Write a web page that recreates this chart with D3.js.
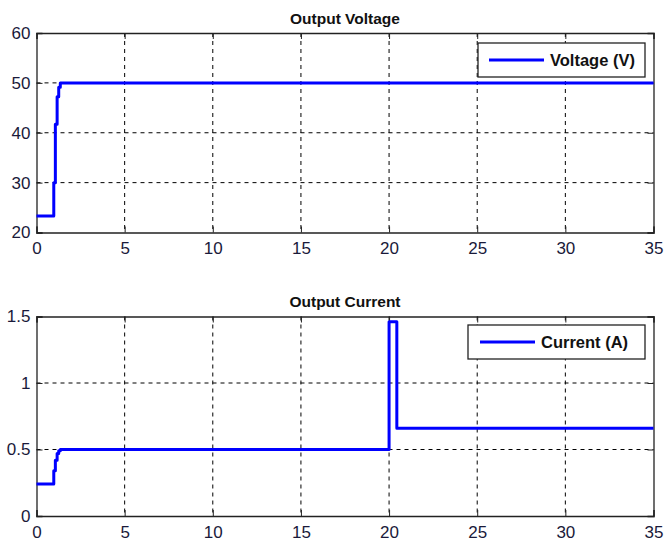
<!DOCTYPE html>
<html>
<head>
<meta charset="utf-8">
<script src="https://cdn.jsdelivr.net/npm/d3@7"></script>
<style>
  body { margin: 0; background: #fff; }
  svg { display: block; }
  text { font-family: "Liberation Sans", Arial, sans-serif; }
</style>
</head>
<body>
<div id="chart"></div>
<script>
// time (s) and values, step-wise
const voltTime = [0, 0.98, 0.98, 1.07, 1.07, 1.17, 1.17, 1.26, 1.26, 1.35, 1.35, 35];
const voltValues = [23.3, 23.3, 30, 30, 41.7, 41.7, 47.2, 47.2, 49.1, 49.1, 50, 50];

const currTime = [0, 0.98, 0.98, 1.07, 1.07, 1.17, 1.17, 1.26, 1.26, 1.35, 1.35, 20.0, 20.0, 20.44, 20.44, 35];
const currValues = [0.24, 0.24, 0.34, 0.34, 0.42, 0.42, 0.47, 0.47, 0.49, 0.49, 0.5, 0.5, 1.46, 1.46, 0.66, 0.66];

const xTicks = [0, 5, 10, 15, 20, 25, 30, 35];
const voltTicks = [20, 30, 40, 50, 60];
const currTicks = [0, 0.5, 1, 1.5];

const width = 665, height = 541;
const svg = d3.select("#chart").append("svg")
    .attr("width", width)
    .attr("height", height);

function drawPanel(opts) {
    let g = svg.append("g");

    let x = d3.scaleLinear().domain([0, 35]).range([36.5, 653.5]);
    let y = d3.scaleLinear().domain(opts.yDomain).range([opts.bottom, opts.top]);

    // grid
    g.selectAll(".vgrid").data(xTicks.slice(1, -1)).enter()
        .append("line")
        .attr("x1", d => x(d)).attr("x2", d => x(d))
        .attr("y1", opts.top).attr("y2", opts.bottom)
        .attr("stroke", "#000").attr("stroke-width", 1)
        .attr("stroke-dasharray", "4,4");
    g.selectAll(".hgrid").data(opts.yTicks.slice(1, -1)).enter()
        .append("line")
        .attr("x1", x(0)).attr("x2", x(35))
        .attr("y1", d => y(d)).attr("y2", d => y(d))
        .attr("stroke", "#000").attr("stroke-width", 1)
        .attr("stroke-dasharray", "4,4");

    // axes
    let xAxis = g.append("g")
        .attr("transform", `translate(0, ${opts.bottom})`)
        .call(d3.axisBottom(x).tickValues(xTicks).tickSize(-6).tickPadding(9.5).tickFormat(d3.format("d")));
    let xAxisTop = g.append("g")
        .attr("transform", `translate(0, ${opts.top})`)
        .call(d3.axisTop(x).tickValues(xTicks).tickSize(-6).tickFormat(""));
    let yAxis = g.append("g")
        .attr("transform", `translate(${x(0)}, 0)`)
        .call(d3.axisLeft(y).tickValues(opts.yTicks).tickSize(-6).tickPadding(6).tickFormat(d => String(d)));
    let yAxisR = g.append("g")
        .attr("transform", `translate(${x(35)}, 0)`)
        .call(d3.axisRight(y).tickValues(opts.yTicks).tickSize(-6).tickFormat(""));

    [xAxis, xAxisTop, yAxis, yAxisR].forEach(a => {
        a.select(".domain").attr("stroke", "#222").attr("stroke-width", 1.3);
        a.selectAll(".tick line").attr("stroke", "#222");
        a.selectAll("text")
            .attr("fill", "#1a1a3a")
            .style("font-size", "17px")
            .style("font-family", "Liberation Sans, Arial, sans-serif");
    });

    // line
    let line = d3.line()
        .x(d => x(d[0]))
        .y(d => y(d[1]));
    g.append("path")
        .datum(opts.time.map((t, i) => [t, opts.values[i]]))
        .attr("fill", "none")
        .attr("stroke", "#0000ff")
        .attr("stroke-width", 3)
        .attr("stroke-linejoin", "round")
        .attr("d", line);

    // title
    g.append("text")
        .attr("x", (x(0) + x(35)) / 2)
        .attr("y", opts.top - 9.5)
        .attr("text-anchor", "middle")
        .style("font-size", "15.5px")
        .style("font-weight", "bold")
        .attr("fill", "#111")
        .text(opts.title);

    // legend
    let lg = g.append("g");
    lg.append("rect")
        .attr("x", opts.legend.x).attr("y", opts.legend.y)
        .attr("width", opts.legend.w).attr("height", 34)
        .attr("fill", "#fff").attr("stroke", "#222").attr("stroke-width", 1.3);
    lg.append("line")
        .attr("x1", opts.legend.x + opts.legend.l0).attr("x2", opts.legend.x + opts.legend.l0 + 55)
        .attr("y1", opts.legend.y + 17).attr("y2", opts.legend.y + 17)
        .attr("stroke", "#0000ff").attr("stroke-width", 3);
    lg.append("text")
        .attr("x", opts.legend.x + opts.legend.l0 + 61).attr("y", opts.legend.y + 23)
        .style("font-size", "16.5px").style("font-weight", "bold")
        .attr("fill", "#111")
        .text(opts.label);
}

drawPanel({
    top: 33, bottom: 232.5, yDomain: [20, 60], yTicks: voltTicks,
    time: voltTime, values: voltValues, title: "Output Voltage",
    label: "Voltage (V)", legend: {x: 478, y: 43, w: 167, l0: 11}
});

drawPanel({
    top: 316.5, bottom: 516, yDomain: [0, 1.5], yTicks: currTicks,
    time: currTime, values: currValues, title: "Output Current",
    label: "Current (A)", legend: {x: 468, y: 325, w: 177, l0: 12}
});
</script>
</body>
</html>
